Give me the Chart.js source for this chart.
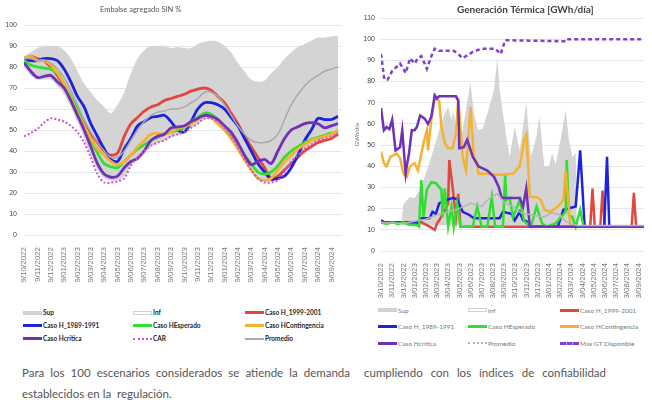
<!DOCTYPE html>
<html>
<head>
<meta charset="utf-8">
<script src="https://cdn.jsdelivr.net/npm/chart.js@4.4.1/dist/chart.umd.min.js"></script>
<style>
  body { margin: 0; background: #fff; }
  #wrap { position: relative; width: 652px; height: 400px; overflow: hidden; font-family: Lato, "Open Sans", sans-serif; }
  canvas { position: absolute; top: 0; }
  #embalse { left: 0; }
  #termica { left: 345px; }
  .title { position: absolute; white-space: nowrap; }
  #titleLeft { left: 100px; top: 5px; font-size: 7.5px; color: #555; }
  #titleRight { left: 457px; top: 3px; font-size: 10px; font-weight: 700; color: #404040; }
  .legend { position: absolute; display: grid; }
  #legendLeft { left: 23px; top: 306px; grid-template-columns: 110px 112px 100px; grid-auto-rows: 13px; font-size: 6.5px; font-weight: 700; color: #262626; }
  #legendRight { left: 378px; top: 302px; grid-template-columns: 90px 92px 92px; grid-auto-rows: 16.5px; font-size: 6.5px; color: #777; }
  .item { display: flex; align-items: center; white-space: nowrap; }
  .sw { display: inline-block; width: 19px; height: 0; margin-right: 1px; }
  .sw.box { height: 4px; border: 1px solid #d0d0d0; box-sizing: border-box; }
  .txt { position: absolute; font-size: 11.5px; color: #555; line-height: 14px; }
  #t1 { left: 22px; top: 366px; width: 328px; text-align: justify; text-align-last: justify; }
  #t2 { left: 22px; top: 387px; }
  #t3 { left: 364px; top: 366px; width: 242px; text-align: justify; text-align-last: justify; }
</style>
</head>
<body>
<div id="wrap">
  <canvas id="embalse" width="345" height="300"></canvas>
  <canvas id="termica" width="307" height="300"></canvas>
  <div class="title" id="titleLeft">Embalse agregado SIN %</div>
  <div class="title" id="titleRight">Generación Térmica [GWh/día]</div>
  <div class="legend" id="legendLeft"></div>
  <div class="legend" id="legendRight"></div>
  <div class="txt" id="t1">Para los 100 escenarios considerados se atiende la demanda</div>
  <div class="txt" id="t2">establecidos en la &nbsp;regulación.</div>
  <div class="txt" id="t3">cumpliendo con los índices de confiabilidad</div>
</div>
<script>
// tick labels (one per month)
const leftLabels = ['9/10/2022', '9/11/2022', '9/12/2022', '9/01/2023', '9/02/2023', '9/03/2023', '9/04/2023', '9/05/2023',
  '9/06/2023', '9/07/2023', '9/08/2023', '9/09/2023', '9/10/2023', '9/11/2023', '9/12/2023', '9/01/2024',
  '9/02/2024', '9/03/2024', '9/04/2024', '9/05/2024', '9/06/2024', '9/07/2024', '9/08/2024', '9/09/2024'];
const rightLabels = ['3/10/2022', '3/11/2022', '3/12/2022', '3/01/2023', '3/02/2023', '3/03/2023', '3/04/2023', '3/05/2023',
  '3/06/2023', '3/07/2023', '3/08/2023', '3/09/2023', '3/10/2023', '3/11/2023', '3/12/2023', '3/01/2024',
  '3/02/2024', '3/03/2024', '3/04/2024', '3/05/2024', '3/06/2024', '3/07/2024', '3/08/2024', '3/09/2024'];

// Embalse agregado SIN %, one value every half month
const embSup = [85, 87, 89, 90, 90, 90, 88, 84, 78, 72, 68, 64, 61, 58, 62, 68, 77, 84, 88, 90, 90, 90, 89, 89.5,
  89, 89, 91, 92, 92.5, 92, 90, 87, 82, 78, 74, 73, 73.5, 77, 80, 84, 87, 89.5, 91, 92.5, 94, 94, 94.5, 95];
const embInf = [80, 76, 74, 74, 74, 71, 67, 61, 54, 46, 38, 31, 27, 26, 26, 28, 33, 37, 40, 42, 44, 45, 46.5, 47.5,
  49, 51, 53, 55, 55, 53, 50, 46, 41, 35, 31, 27, 25.5, 25.5, 27, 31, 35, 38, 41, 43, 45, 46, 47, 48];
const embH1999 = [84, 85, 84, 83, 80, 76, 71, 65, 59, 53, 48, 44, 40, 38, 39, 47, 53, 56, 59, 61, 62, 64, 65, 66,
  67, 68.5, 69.5, 70, 69, 66, 63, 58, 53, 47, 42, 37, 32, 27, 28, 31, 34, 37, 40, 42, 44, 45, 46, 48];
const embH1989 = [84, 83, 83, 84, 84, 83, 79, 73, 66, 61, 53, 47, 41, 36, 35, 41, 46, 52, 54, 56, 56.5, 57, 54, 50,
  49, 54, 60, 63, 63, 62, 60, 56, 52, 46, 40, 34, 30, 26.5, 27, 28, 32, 38, 45, 50, 55.5, 55, 55, 56.5];
const embEsperado = [83, 81, 80, 79.5, 79, 77, 72, 66, 60, 52, 45, 39, 34, 32.5, 32, 35, 38, 41, 43, 45, 46.5, 48, 49, 50,
  51, 54, 56, 58, 57.5, 55, 51, 48, 43, 38, 34, 30, 29, 30, 33, 37, 40, 42, 44, 45.5, 46.5, 47.5, 48.5, 49];
const embContingencia = [84, 85, 83, 83, 81, 77, 72, 65, 58, 52, 46, 41, 38, 35, 33.5, 35, 38, 42, 45, 48, 48.5, 48, 49, 51,
  51.5, 53, 55, 57, 56, 53, 50, 46, 41, 36, 31, 27, 26, 27, 31, 35, 38, 41, 43, 45, 46, 47, 48, 50];
const embCritica = [82, 78, 75, 75.5, 76, 73, 70, 64, 57, 50, 42, 34, 29, 27.5, 28, 32, 35, 36.5, 40, 45, 47, 48, 51, 51.5,
  52, 54, 55.5, 57, 56.5, 55, 52, 49, 44, 38, 33.5, 35, 36, 34, 40, 46, 50, 51.5, 53, 53.5, 53, 51, 52, 53];
const embCAR = [47, 48.5, 50.5, 53.5, 55.5, 55, 54, 52, 49, 44, 37, 29, 25, 25, 25.5, 27, 33, 37, 40, 42.5, 44, 45, 47, 48,
  49, 51, 53, 55.5, 55.5, 54, 51, 47, 42, 36, 31, 27, 25, 25, 26, 30, 35, 38, 41, 43, 45, 46, 47, 48];
const embPromedio = [84, 84, 83, 83, 82, 79, 75, 69, 62, 55, 49, 44, 40, 37, 37, 40, 45, 50, 54, 57, 58.5, 59, 60, 60,
  61, 63, 65, 68, 68, 66, 62, 57, 52, 48, 45, 44, 44, 45, 48, 55, 62, 67, 71, 74, 76, 78, 79, 80];

// Generación Térmica [GWh/día], [month position, value]
const genSup = [[1.8, 12], [2.0, 22], [2.3, 24], [2.6, 25.5], [3.0, 25], [3.5, 29], [4.1, 38], [4.5, 44.5], [5.2, 57],
  [5.7, 65], [6.0, 68], [6.3, 62], [6.45, 66.5], [6.7, 58.5], [7.0, 52], [7.3, 57], [7.7, 70], [8.0, 79.5], [8.3, 65],
  [8.7, 57], [9.1, 58], [9.6, 66.5], [10.1, 76], [10.4, 91], [10.6, 76], [10.9, 65], [11.2, 54], [11.5, 44.5],
  [11.95, 58.5], [12.4, 47.5], [12.98, 70], [13.4, 44.5], [13.9, 54], [14.15, 63.5], [14.6, 40], [15.0, 40],
  [15.3, 46], [15.6, 41], [16.05, 52.5], [16.5, 66.5], [16.8, 52.5], [17.1, 44.5], [17.4, 46], [17.5, 12]];
const genInf = [[1.8, 12], [17.5, 12]];
const genH1999 = [[0, 13.5], [3.4, 13.5], [3.5, 14], [3.8, 13], [4.5, 11], [4.8, 10], [5.0, 13], [5.2, 14.5], [5.7, 19],
  [6.0, 22.5], [6.1, 43], [6.4, 30], [6.7, 16], [6.9, 27], [7.1, 11.5], [18.7, 11.5], [18.9, 29.5], [19.1, 11.5],
  [19.6, 11.5], [19.8, 28.5], [20.0, 11.5], [22.4, 11.5], [22.6, 27.5], [22.8, 11.5], [23.5, 11.5]];
const genH1989 = [[0, 14.5], [0.3, 13.5], [3.4, 13.5], [3.5, 15.5], [4.3, 15.5], [4.4, 16], [4.6, 18.5], [4.9, 17.5],
  [5.2, 22.5], [5.8, 24], [6.4, 25], [6.8, 24.5], [7.3, 18.5], [7.9, 17], [8.3, 15.5], [10.6, 15.5], [10.9, 18.5],
  [11.3, 18], [11.7, 17.5], [11.95, 14.5], [12.4, 18.5], [12.7, 14.5], [13.0, 14], [13.3, 11.5], [15.8, 11.5],
  [16.3, 19.5], [17.4, 21], [17.8, 47.5], [18.2, 11.5], [19.95, 11.5], [20.2, 44.5], [20.4, 11.5], [23.5, 11.5]];
const genEsperado = [[0, 13.5], [0.5, 12.8], [1.0, 13.5], [1.5, 12.8], [2.0, 13.5], [2.5, 12.5], [3.2, 12.3], [3.4, 11.5],
  [3.6, 33.5], [3.8, 16], [4.1, 29], [4.5, 32.5], [4.9, 32], [5.4, 29], [5.5, 16], [5.7, 29.5], [6.0, 11.5], [6.3, 21],
  [6.5, 11.5], [6.8, 22.5], [7.1, 11.5], [8.2, 11.5], [8.6, 21], [9.0, 11.5], [9.5, 11.5], [9.9, 25.5], [10.2, 11.5],
  [10.9, 11.5], [11.1, 36.5], [11.2, 24], [11.5, 25], [11.8, 16], [12.4, 24], [12.8, 14], [13.4, 11.5], [13.9, 21],
  [14.4, 13], [14.8, 11.5], [15.6, 13], [16.5, 18.5], [16.6, 43], [16.8, 17], [17.1, 16], [17.4, 11.5], [17.8, 19.5],
  [18.1, 11.5], [23.5, 11.5]];
const genContingencia = [[0, 47], [0.26, 41.5], [0.5, 40], [0.85, 44.5], [1.4, 46], [1.7, 44], [2.0, 36.5], [2.3, 35],
  [2.6, 40], [3.0, 41.5], [3.3, 38], [3.8, 51], [4.1, 57], [4.2, 47.5], [4.5, 62], [4.8, 72], [5.2, 71], [5.4, 58.5],
  [5.7, 51], [6.0, 48.5], [6.4, 48.5], [6.7, 55.5], [6.9, 72], [7.3, 44.5], [7.6, 38], [8.0, 68], [8.3, 44.5],
  [8.6, 41.5], [8.7, 36.5], [9.5, 36.5], [10.5, 36], [11.8, 36.5], [12.4, 40], [12.8, 52.5], [13.0, 55], [13.3, 25.5],
  [13.9, 25.5], [14.3, 24], [14.6, 19.5], [15.2, 18.5], [15.9, 21.5], [16.3, 24], [16.5, 38], [16.9, 13], [17.1, 11.5],
  [23.5, 11.5]];
const genCritica = [[0, 67.5], [0.26, 57], [0.5, 58.5], [0.75, 57.5], [1.0, 62], [1.3, 47.5], [1.7, 49], [1.9, 57],
  [2.2, 36.5], [2.3, 40], [2.5, 46], [2.75, 57], [3.0, 57], [3.2, 58.5], [3.5, 64], [3.9, 62.5], [4.2, 60], [4.5, 63.5],
  [4.8, 73.5], [5.0, 72], [5.2, 73], [6.7, 73], [6.9, 71], [7.0, 48.5], [7.4, 49], [7.7, 52.5], [8.2, 44.5], [8.7, 40],
  [9.5, 38], [10.1, 35], [10.5, 30.5], [10.8, 25], [12.4, 25], [12.7, 21], [12.98, 29.5], [13.3, 11.5], [23.5, 11.5]];
const genPromedio = [[0, 13.5], [2.0, 13], [3.0, 14], [4.0, 15], [5.0, 17], [6.0, 18.5], [7.0, 20], [8.0, 22.5], [9.0, 21],
  [9.7, 25], [10.4, 27], [11.0, 23], [11.8, 21], [12.5, 18], [13.5, 17], [14.5, 16], [15.3, 18], [16.0, 17], [16.5, 14],
  [17.5, 12], [23.5, 12]];
const genMaxGT = [[0, 93], [0.3, 81], [0.6, 81], [1.0, 85], [1.4, 87], [1.7, 88.5], [2.0, 86], [2.2, 84], [2.6, 91],
  [3.0, 88.5], [3.3, 91], [3.6, 92], [4.1, 86], [4.5, 92], [4.8, 95.5], [5.2, 94.5], [6.5, 94.5], [7.0, 92.5], [7.3, 91],
  [8.2, 94], [9.0, 95.5], [10.2, 95.5], [10.7, 93], [11.1, 99.5], [16.5, 99], [16.6, 100], [23.5, 100]];

const halfMonth = values => values.map((v, i) => ({ x: i / 2, y: v }));
const pairs = list => list.map(([x, y]) => ({ x, y }));

const RED = '#e2463c', BLUE = '#1c22de', GREEN = '#30e030', ORANGE = '#f6b130', PURPLE = '#7030b8';

function line(label, data, color, extra) {
  return Object.assign({ label, data, borderColor: color, backgroundColor: color, borderWidth: 2.5, fill: false }, extra || {});
}

// later series drawn on top, like the spreadsheet
function stackOrder(datasets) {
  datasets.forEach((d, i) => { d.order = -i; });
  return datasets;
}

function baseOptions(labels, xMax, yMax, yWidth, xHeight, padTop, tension) {
  return {
    responsive: false,
    animation: false,
    layout: { padding: { top: padTop, right: 2, left: 0, bottom: 0 } },
    elements: { point: { radius: 0 }, line: { tension } },
    plugins: { legend: { display: false }, tooltip: { enabled: false }, filler: { drawTime: 'beforeDatasetsDraw' } },
    scales: {
      x: {
        type: 'linear', min: 0, max: xMax,
        grid: { display: false }, border: { display: false },
        ticks: {
          stepSize: 1, autoSkip: false, includeBounds: false, minRotation: 90, maxRotation: 90,
          font: { family: 'Liberation Sans', size: 8 }, color: '#7a7a7a', padding: 4,
          callback: v => labels[v]
        },
        afterFit: s => { s.height = xHeight; }
      },
      y: {
        min: 0, max: yMax,
        grid: { color: '#e1e7f0', drawTicks: false }, border: { display: false },
        ticks: { stepSize: 10, font: { family: 'Liberation Sans', size: 7 }, color: '#444', padding: 7 },
        afterFit: s => { s.width = yWidth; }
      }
    }
  };
}

const embChart = new Chart(document.getElementById('embalse'), {
  type: 'line',
  data: {
    datasets: stackOrder([
      { label: 'Sup', data: halfMonth(embSup), borderWidth: 0, backgroundColor: '#d4d4d4', fill: '+1' },
      { label: 'Inf', data: halfMonth(embInf), borderWidth: 0, backgroundColor: '#ffffff', fill: false },
      line('Caso H_1999-2001', halfMonth(embH1999), RED, { borderWidth: 2.8 }),
      line('Caso H_1989-1991', halfMonth(embH1989), BLUE, { borderWidth: 2.8 }),
      line('Caso HEsperado', halfMonth(embEsperado), GREEN, { borderWidth: 2.8 }),
      line('Caso HContingencia', halfMonth(embContingencia), ORANGE, { borderWidth: 2.8 }),
      line('Caso Hcrítica', halfMonth(embCritica), PURPLE, { borderWidth: 2.8 }),
      line('CAR', halfMonth(embCAR), '#d24fd2', { borderWidth: 2, borderDash: [2, 2] }),
      line('Promedio', halfMonth(embPromedio), '#a9a9a9', { borderWidth: 1.5 })
    ])
  },
  options: baseOptions(leftLabels, 23.75, 100, 24, 65, 25, 0.3)
});

const genOptions = baseOptions(rightLabels, 23.5, 110, 36, 49, 18, 0);
genOptions.scales.y.ticks.padding = 6;
genOptions.scales.y.title = { display: true, text: 'GWh/día', font: { family: 'Liberation Sans', size: 6 }, color: '#777', padding: { top: 9, bottom: 0 } };

const genChart = new Chart(document.getElementById('termica'), {
  type: 'line',
  data: {
    datasets: stackOrder([
      { label: 'Sup', data: pairs(genSup), borderWidth: 0, backgroundColor: '#d4d4d4', fill: '+1' },
      { label: 'Inf', data: pairs(genInf), borderWidth: 0, backgroundColor: '#ffffff', fill: false },
      line('Caso H_1999-2001', pairs(genH1999), RED),
      line('Caso H_1989-1991', pairs(genH1989), BLUE),
      line('Caso HEsperado', pairs(genEsperado), GREEN),
      line('Caso HContingencia', pairs(genContingencia), ORANGE),
      line('Caso Hcrítica', pairs(genCritica), PURPLE),
      line('Promedio', pairs(genPromedio), '#b5b5b5', { borderWidth: 1.5 }),
      line('Max GT Disponible', pairs(genMaxGT), '#8040d0', { borderWidth: 2.5, borderDash: [4, 3] })
    ])
  },
  options: genOptions
});

function buildLegend(el, chart, promedioDotted) {
  chart.data.datasets.forEach(ds => {
    const item = document.createElement('div');
    item.className = 'item';
    const sw = document.createElement('span');
    sw.className = 'sw';
    if (ds.borderWidth === 0) {
      sw.classList.add('box');
      sw.style.background = ds.backgroundColor;
    } else {
      let style = 'solid';
      if (ds.borderDash) style = ds.borderDash[0] > 2 ? 'dashed' : 'dotted';
      if (promedioDotted && ds.label === 'Promedio') style = 'dotted';
      sw.style.borderTop = Math.max(2, Math.round(ds.borderWidth)) + 'px ' + style + ' ' + ds.borderColor;
    }
    item.appendChild(sw);
    item.appendChild(document.createTextNode(ds.label));
    el.appendChild(item);
  });
}
buildLegend(document.getElementById('legendLeft'), embChart, false);
buildLegend(document.getElementById('legendRight'), genChart, true);
</script>
</body>
</html>
